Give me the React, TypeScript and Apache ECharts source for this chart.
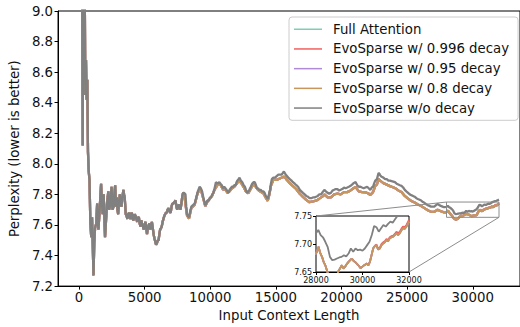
import React, { useEffect, useRef } from "react";
import * as echarts from "echarts";

const seriesNames = [
  "Full Attention",
  "EvoSparse w/ 0.996 decay",
  "EvoSparse w/ 0.95 decay",
  "EvoSparse w/ 0.8 decay",
  "EvoSparse w/o decay",
];
const seriesColors = ["#7fcdb4", "#f0605d", "#b08ad6", "#c8955a", "#808080"];

const xTicks = [0, 5000, 10000, 15000, 20000, 25000, 30000];

// shared early segment (all five curves coincide)
const earlyX = [120,180,230,280,330,380,430,480,530,580,630,680,740,800,860,930,990,1050,1100,1160,1220,1310,1380,1430,1480,1550,1620,1680,1740,1800,1880,1930,1980,2050,2130,2230,2290,2360,2480,2550,2630,2690,2750,2820,2880,2930,2980,3040,3110,3170,3230,3300,3380,3430,3480,3560,3620,3680,3740,3810,3870,3930,4000,4050,4120,4180,4240,4310,4370,4430,4490,4560,4620,4680,4740,4800,4870,4930,5000,5060,5120,5180,5240,5310,5370,5430,5500,5550,5620,5680,5750,5810,5870,5930,6000,6060,6120,6180,6250,6300,6370,6430,6500,6560,6620,6680,6750,6810,6880,6980,7050,7110,7180,7270,7350,7420,7480,7560,7630,7690,7730,7800,7870,7930];
const earlyY = [10.8,9.8,9.3,8.12,9.4,9.9,9.2,8.45,8.68,8.42,8.55,8.08,7.95,7.89,7.62,7.52,7.65,7.45,7.27,7.48,7.58,7.61,7.74,7.62,7.57,7.67,7.78,7.87,7.75,7.67,7.8,7.64,7.52,7.62,7.74,7.82,7.7,7.72,7.85,7.7,7.72,7.8,7.86,7.72,7.78,7.7,7.67,7.74,7.8,7.74,7.72,7.78,7.83,7.8,7.78,7.67,7.66,7.64,7.67,7.68,7.65,7.64,7.68,7.67,7.63,7.64,7.67,7.66,7.64,7.62,7.65,7.65,7.61,7.59,7.63,7.61,7.59,7.57,7.6,7.62,7.58,7.54,7.58,7.6,7.61,7.57,7.6,7.62,7.58,7.54,7.51,7.49,7.47,7.48,7.5,7.5,7.54,7.57,7.58,7.59,7.62,7.64,7.66,7.67,7.68,7.68,7.7,7.71,7.69,7.68,7.72,7.74,7.74,7.75,7.76,7.72,7.7,7.73,7.73,7.71,7.7,7.74,7.79,7.81];

// "w/o decay" (gray) from 8000 to 28000
const grayMidX = [8000,8110,8170,8230,8300,8380,8470,8560,8680,8810,8930,9050,9190,9280,9380,9470,9560,9620,9680,9780,9890,9970,10060,10150,10240,10330,10430,10560,10690,10780,10880,10970,11060,11150,11240,11310,11390,11470,11560,11650,11740,11830,11930,12000,12060,12150,12230,12330,12440,12540,12640,12720,12810,12900,12980,13090,13190,13290,13390,13480,13560,13650,13730,13840,13940,14040,14140,14230,14310,14380,14440,14500,14560,14620,14690,14810,14940,15060,15190,15300,15440,15530,15610,15680,15740,15840,15940,16060,16190,16300,16440,16560,16690,16820,16940,17060,17190,17310,17440,17560,17690,17820,17940,18060,18190,18310,18440,18560,18690,18810,18940,19060,19190,19310,19440,19560,19690,19820,19940,20060,20190,20310,20440,20560,20690,20820,20940,21070,21200,21320,21440,21560,21690,21820,21950,22070,22190,22300,22400,22480,22570,22700,22820,22890,22940,23060,23190,23320,23450,23570,23690,23880,24070,24200,24330,24450,24570,24700,24820,24940,25070,25200,25320,25450,25570,25700,25820,25950,26070,26200,26320,26450,26570,26700,26820,26950,27070,27200,27320,27450,27570,27700,27820];
const grayMidY = [7.81,7.8,7.72,7.67,7.66,7.65,7.69,7.72,7.73,7.74,7.78,7.82,7.85,7.84,7.82,7.78,7.75,7.73,7.74,7.76,7.76,7.78,7.78,7.8,7.81,7.84,7.88,7.87,7.88,7.87,7.86,7.84,7.85,7.84,7.83,7.82,7.81,7.83,7.84,7.85,7.85,7.86,7.86,7.88,7.89,7.9,7.91,7.89,7.88,7.86,7.85,7.83,7.81,7.82,7.83,7.85,7.87,7.88,7.88,7.86,7.84,7.84,7.83,7.83,7.82,7.82,7.81,7.79,7.78,7.77,7.79,7.81,7.83,7.87,7.9,7.91,7.91,7.92,7.93,7.93,7.93,7.94,7.95,7.94,7.93,7.92,7.91,7.9,7.89,7.88,7.87,7.86,7.85,7.83,7.82,7.81,7.8,7.79,7.785,7.775,7.775,7.78,7.78,7.785,7.79,7.8,7.8,7.815,7.83,7.82,7.81,7.805,7.81,7.825,7.83,7.835,7.835,7.825,7.83,7.835,7.845,7.84,7.845,7.85,7.856,7.865,7.875,7.88,7.86,7.85,7.85,7.845,7.84,7.845,7.85,7.84,7.83,7.845,7.85,7.87,7.89,7.9,7.94,7.935,7.925,7.915,7.91,7.9,7.9,7.89,7.89,7.885,7.88,7.87,7.865,7.86,7.856,7.845,7.83,7.82,7.81,7.8,7.795,7.79,7.785,7.775,7.77,7.765,7.76,7.75,7.745,7.735,7.73,7.725,7.72,7.72,7.72,7.73,7.737,7.73,7.725,7.72,7.716];

// decay curves (drawn beneath, nearly coincident) from 8000 to 28000
const lowerMidX = [8000,8230,8380,8560,8810,9050,9280,9470,9620,9780,9970,10150,10330,10560,10780,10970,11150,11310,11470,11650,11830,12000,12150,12330,12540,12720,12900,13090,13290,13480,13650,13840,14040,14230,14380,14500,14620,14810,15060,15300,15530,15680,15840,16060,16300,16560,16820,17060,17310,17560,17820,18060,18310,18560,18690,18940,19190,19440,19690,19940,20190,20440,20690,20940,21070,21320,21560,21820,22070,22190,22400,22570,22700,22820,22940,23190,23450,23690,24070,24330,24570,24820,25070,25320,25570,25820,26070,26320,26570,26820,27070,27320,27570,27820];
const lowerMidY = [7.805,7.662,7.642,7.712,7.732,7.812,7.832,7.772,7.722,7.752,7.772,7.792,7.832,7.862,7.862,7.832,7.832,7.81,7.82,7.84,7.85,7.868,7.888,7.878,7.848,7.818,7.808,7.838,7.868,7.848,7.828,7.818,7.808,7.778,7.758,7.798,7.856,7.895,7.895,7.904,7.914,7.914,7.894,7.874,7.854,7.834,7.804,7.784,7.764,7.749,7.754,7.759,7.772,7.787,7.8,7.78,7.78,7.8,7.805,7.8,7.815,7.815,7.826,7.842,7.848,7.82,7.815,7.814,7.805,7.796,7.815,7.855,7.865,7.902,7.89,7.874,7.864,7.854,7.842,7.826,7.816,7.79,7.772,7.757,7.747,7.734,7.724,7.71,7.696,7.686,7.686,7.7,7.69,7.682];

// zoomed region 28000-32000
const grayInsetX = [28000,28100,28200,28300,28400,28500,28600,28700,28800,28900,29000,29100,29200,29300,29400,29500,29600,29700,29800,29900,30000,30100,30200,30300,30400,30500,30600,30700,30800,30900,31000,31100,31200,31300,31400,31500,31600,31700,31800,31900,32000];
const grayInsetY = [7.719,7.725,7.716,7.712,7.704,7.695,7.677,7.671,7.672,7.674,7.676,7.677,7.68,7.678,7.683,7.692,7.686,7.692,7.689,7.69,7.688,7.692,7.698,7.704,7.716,7.732,7.73,7.722,7.728,7.734,7.731,7.736,7.74,7.738,7.744,7.75,7.753,7.756,7.758,7.762,7.766];
const lowerInsetX = [28000,28060,28110,28180,28260,28330,28400,28500,28610,28750,28900,28970,29040,29110,29180,29250,29320,29400,29470,29540,29610,29680,29750,29820,29920,30040,30110,30180,30250,30320,30390,30460,30530,30600,30670,30750,30820,30890,30960,31030,31100,31170,31240,31320,31390,31460,31530,31600,31670,31740,31810,31890,32000];
const lowerInsetY = [7.683,7.688,7.695,7.684,7.677,7.668,7.662,7.649,7.64,7.635,7.643,7.652,7.657,7.662,7.656,7.659,7.664,7.668,7.671,7.674,7.67,7.668,7.665,7.662,7.657,7.661,7.663,7.665,7.662,7.668,7.68,7.692,7.696,7.698,7.69,7.692,7.698,7.701,7.703,7.707,7.705,7.71,7.712,7.713,7.716,7.719,7.716,7.719,7.724,7.728,7.727,7.731,7.74];
const redInsetY = [7.683,7.688,7.695,7.684,7.677,7.668,7.662,7.649,7.64,7.635,7.643,7.652,7.657,7.662,7.657,7.66,7.664,7.668,7.671,7.674,7.67,7.668,7.665,7.662,7.657,7.661,7.663,7.665,7.662,7.669,7.681,7.693,7.697,7.699,7.692,7.694,7.7,7.703,7.705,7.709,7.707,7.712,7.714,7.715,7.718,7.722,7.719,7.722,7.727,7.731,7.73,7.734,7.743];

const zip = (xs: number[], ys: number[]) => xs.map((x, i) => [x, ys[i]]);

const FONT = "DejaVu Sans";

export default function App() {
  const ref = useRef<HTMLDivElement>(null);
  useEffect(() => {
    if (!ref.current) return;
    const chart = echarts.init(ref.current, undefined, { renderer: "svg" });

    const early = zip(earlyX, earlyY);
    const grayData = [...early, ...zip(grayMidX, grayMidY), ...zip(grayInsetX, grayInsetY)];
    const lowerData = [...early, ...zip(lowerMidX, lowerMidY), ...zip(lowerInsetX, lowerInsetY)];
    const redData = [...early, ...zip(lowerMidX, lowerMidY), ...zip(lowerInsetX, redInsetY)];
    const dataSets = [lowerData, redData, lowerData, lowerData, grayData];

    const series: any[] = [];
    dataSets.forEach((d, i) => {
      series.push({
        name: seriesNames[i],
        type: "line",
        data: d,
        xAxisIndex: 0,
        yAxisIndex: 0,
        symbol: "none",
        showSymbol: false,
        color: seriesColors[i],
        lineStyle: { color: seriesColors[i], width: 2.3 },
        clip: true,
        z: 2 + i,
      });
    });
    dataSets.forEach((d, i) => {
      series.push({
        name: seriesNames[i],
        type: "line",
        data: d,
        xAxisIndex: 1,
        yAxisIndex: 1,
        symbol: "none",
        showSymbol: false,
        color: seriesColors[i],
        lineStyle: { color: seriesColors[i], width: 1.8 },
        clip: true,
        z: 12 + i,
      });
    });

    const labelBase = { color: "#111", fontFamily: FONT };
    const plain = (v: number) => String(v);

    chart.setOption({
      animation: false,
      backgroundColor: "#fff",
      textStyle: { fontFamily: FONT },
      grid: [
        { left: 53, top: 11, width: 469, height: 279, show: true, borderColor: "#000", borderWidth: 1, backgroundColor: "transparent" },
        { left: 316, top: 216, width: 93, height: 56, show: true, borderColor: "#000", borderWidth: 1, backgroundColor: "#fff", z: 10 },
      ],
      legend: {
        data: seriesNames,
        left: 289,
        top: 17,
        orient: "vertical",
        icon: "rect",
        itemWidth: 28,
        itemHeight: 1.5,
        itemGap: 5.2,
        padding: [5, 9, 5, 5],
        backgroundColor: "rgba(255,255,255,0.8)",
        borderColor: "#cccccc",
        borderWidth: 1,
        borderRadius: 3,
        selectedMode: false,
        textStyle: { fontSize: 13.3, fontFamily: FONT, color: "#111", padding: [0, 0, 0, 6], lineHeight: 14.5 },
      },
      xAxis: [
        {
          type: "value",
          gridIndex: 0,
          min: -1600,
          max: 33600,
          name: "Input Context Length",
          nameLocation: "middle",
          nameGap: 22,
          nameTextStyle: { fontSize: 13.3, ...labelBase },
          axisLine: { show: true, onZero: false, lineStyle: { color: "#000", width: 1 } },
          axisTick: { show: true, customValues: xTicks, length: 3.5, lineStyle: { color: "#000" } },
          axisLabel: { customValues: xTicks, fontSize: 13.3, margin: 5, formatter: plain, ...labelBase },
          splitLine: { show: false },
        },
        {
          type: "value",
          gridIndex: 1,
          min: 28000,
          max: 32000,
          interval: 2000,
          axisLine: { show: true, onZero: false, lineStyle: { color: "#000", width: 1 } },
          axisTick: { show: true, length: 3, lineStyle: { color: "#000" } },
          axisLabel: { fontSize: 8, margin: 4, formatter: plain, ...labelBase },
          splitLine: { show: false },
        },
      ],
      yAxis: [
        {
          type: "value",
          gridIndex: 0,
          min: 7.2,
          max: 9.0,
          interval: 0.2,
          name: "Perplexity (lower is better)",
          nameLocation: "middle",
          nameGap: 29,
          nameTextStyle: { fontSize: 13.3, ...labelBase },
          axisLine: { show: true, onZero: false, lineStyle: { color: "#000", width: 1 } },
          axisTick: { show: true, length: 3.5, lineStyle: { color: "#000" } },
          axisLabel: { fontSize: 13.3, margin: 5, formatter: (v: number) => v.toFixed(1), ...labelBase },
          splitLine: { show: false },
        },
        {
          type: "value",
          gridIndex: 1,
          min: 7.65,
          max: 7.75,
          interval: 0.05,
          axisLine: { show: true, onZero: false, lineStyle: { color: "#000", width: 1 } },
          axisTick: { show: true, length: 3, lineStyle: { color: "#000" } },
          axisLabel: { fontSize: 8, margin: 4, formatter: (v: number) => v.toFixed(2), ...labelBase },
          splitLine: { show: false },
        },
      ],
      series,
    });

    const p1 = chart.convertToPixel({ xAxisIndex: 0, yAxisIndex: 0 }, [28000, 7.75]) as number[];
    const p2 = chart.convertToPixel({ xAxisIndex: 0, yAxisIndex: 0 }, [32000, 7.65]) as number[];
    const q1 = chart.convertToPixel({ xAxisIndex: 1, yAxisIndex: 1 }, [28000, 7.75]) as number[];
    const q2 = chart.convertToPixel({ xAxisIndex: 1, yAxisIndex: 1 }, [32000, 7.65]) as number[];
    const edge = { stroke: "#8c8c8c", lineWidth: 1, fill: null };
    chart.setOption({
      graphic: [
        { type: "rect", z: 20, silent: true, shape: { x: p1[0], y: p1[1], width: p2[0] - p1[0], height: p2[1] - p1[1] }, style: { ...edge, fill: "none" } },
        { type: "line", z: 20, silent: true, shape: { x1: q1[0], y1: q1[1], x2: p1[0], y2: p1[1] }, style: edge },
        { type: "line", z: 20, silent: true, shape: { x1: q2[0], y1: q2[1], x2: p2[0], y2: p2[1] }, style: edge },
      ],
    });

    return () => chart.dispose();
  }, []);

  return (
    <div
      ref={ref}
      style={{ position: "absolute", left: 0, top: 0, width: 520, height: 327, overflow: "hidden" }}
    />
  );
}
